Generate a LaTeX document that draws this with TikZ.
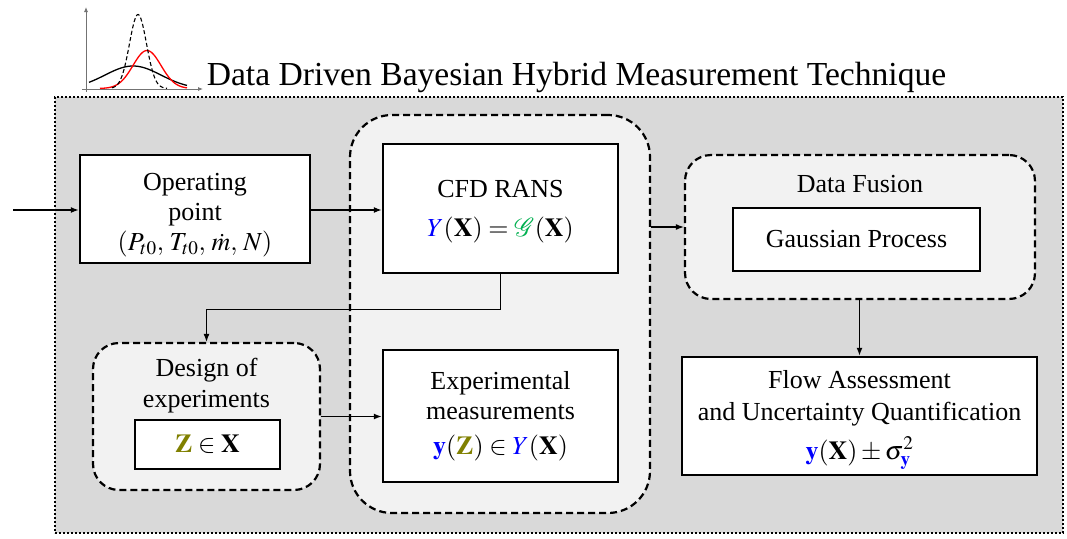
\documentclass[tikz,border=0pt]{standalone}
\usepackage{mathptmx}
\usepackage[no-math]{fontspec}
\setmainfont{Liberation Serif}
\usetikzlibrary{arrows.meta}
\definecolor{bgray}{RGB}{217,217,217}
\definecolor{lgray}{RGB}{242,242,242}
\definecolor{mblue}{RGB}{0,0,255}
\definecolor{mgreen}{RGB}{0,176,80}
\definecolor{molive}{RGB}{128,128,0}
\begin{document}
\begin{tikzpicture}[x=1pt,y=-1pt,
  box/.style={draw,line width=2.5pt,fill=white,inner sep=0pt},
  cont/.style={draw,line width=2.2pt,dash pattern=on 7pt off 4pt,fill=lgray,inner sep=0pt},
  arr/.style={line width=1.3pt,-{Latex[length=8pt,width=6pt]}},
  lbl/.style={align=center,font=\fontsize{26}{31}\selectfont,inner sep=0pt},
  axis/.style={line width=0.8pt,draw=black!55,-{Latex[length=5pt,width=4pt]}}]
\useasboundingbox (0,0) rectangle (1067,538);
% outer frame
\node[draw,line width=2pt,dash pattern=on 2pt off 2pt,fill=bgray,minimum width=1008pt,minimum height=436pt,inner sep=0pt] (outer) at (559,315) {};
% icon
\draw[axis] (82,89) -- (203,89);
\draw[axis] (86,92) -- (86,7);
\draw[line width=1.3pt,domain=89:187,samples=60] plot (\x,{89-23*exp(-((\x-133)*(\x-133))/(2*28*28))});
\draw[line width=1.3pt,red,domain=100:187,samples=60] plot (\x,{88.5-38*exp(-((\x-147)*(\x-147))/(2*14*14))});
\draw[line width=1.1pt,dash pattern=on 4pt off 2.5pt,domain=112:167,samples=60] plot (\x,{88.5-74*exp(-((\x-138)*(\x-138))/(2*8.5*8.5))});
\node[anchor=base,inner sep=0pt,font=\fontsize{33.6}{38}\selectfont] (title) at (576.5,85) {Data Driven Bayesian Hybrid Measurement Technique};
% containers
\node[cont,rounded corners=42pt,minimum width=300pt,minimum height=398pt] (cfdc) at (500,314) {};
\node[cont,rounded corners=26pt,minimum width=227pt,minimum height=147pt] (desc) at (206.5,416.5) {};
\node[cont,rounded corners=26pt,minimum width=350pt,minimum height=144pt] (dfc) at (860,227) {};
% boxes
\node[box,minimum width=230pt,minimum height=108pt] (op) at (195,209) {};
\node[lbl,font=\fontsize{26}{30}\selectfont] (optxt) at (195,215.5) {Operating\\point\\$(P_{t0},\,T_{t0},\,\dot{m},\,N)$};
\node[box,minimum width=235pt,minimum height=129pt] (cfd) at (500.5,208.5) {};
\node[lbl] (cfdtxt) at (500.5,212) {CFD RANS\\[8pt]$\textcolor{mblue}{Y}(\mathbf{X})=\textcolor{mgreen}{\mathcal{G}}(\mathbf{X})$};
\node[box,minimum width=235pt,minimum height=132pt] (exp) at (500.5,416) {};
\node[lbl,font=\fontsize{26}{30}\selectfont] (exptxt) at (500.5,416.5) {Experimental\\measurements\\[5pt]$\textcolor{mblue}{\mathbf{y}}(\textcolor{molive}{\mathbf{Z}})\in\textcolor{mblue}{Y}(\mathbf{X})$};
\node[lbl] (deslbl) at (206.5,385.5) {Design of\\experiments};
\node[box,minimum width=145pt,minimum height=49pt] (zbox) at (207.5,444.5) {};
\node[lbl] (ztxt) at (207.5,444.5) {$\textcolor{molive}{\mathbf{Z}}\in\mathbf{X}$};
\node[lbl,anchor=base] (dflbl) at (860,192) {Data Fusion};
\node[box,minimum width=247pt,minimum height=63pt] (gp) at (856.5,239.5) {};
\node[lbl] (gptxt) at (856.5,239.5) {Gaussian Process};
\node[box,minimum width=355pt,minimum height=118pt] (flow) at (859.5,416) {};
\node[lbl,font=\fontsize{26}{32}\selectfont] (flowtxt) at (859.5,420) {Flow Assessment\\and Uncertainty Quantification\\[7pt]$\textcolor{mblue}{\mathbf{y}}(\mathbf{X})\pm\sigma^2_{\textcolor{mblue}{\mathbf{y}}}$};
% connectors
\coordinate (in) at (13,210);
\draw[arr] (in) -- (op.west |- in);
\draw[arr] (op.east |- in) -- (cfd.west |- in);
\draw[arr] (cfd.south) -- ++(0,35) -| (desc.north);
\draw[arr] (desc.east) -- (exp.west |- desc.east);
\draw[arr] (cfdc.east |- dfc.west) -- (dfc.west);
\draw[arr] (dfc.south -| flow.north) -- (flow.north);
\end{tikzpicture}
\end{document}
